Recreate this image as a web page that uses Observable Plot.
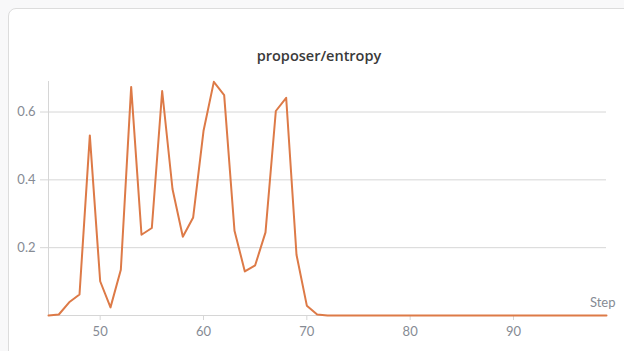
<!DOCTYPE html>
<html>
<head>
<meta charset="utf-8">
<script src="https://cdn.jsdelivr.net/npm/d3@7"></script>
<script src="https://cdn.jsdelivr.net/npm/@observablehq/plot@0.6"></script>
<style>
  html, body { margin: 0; padding: 0; width: 624px; height: 351px; overflow: hidden; background: #f8f8f9; font-family: Lato, "Open Sans", sans-serif; }
  #card { position: absolute; left: 8px; top: 8px; width: 660px; height: 400px; background: #fff; border: 1px solid #dcdcdc; border-radius: 8px; box-sizing: border-box; }
  #title { position: absolute; left: 0; width: 638px; top: 46px; text-align: center; font-family: "Open Sans", sans-serif; font-size: 14.5px; font-weight: 600; color: #3a3a3a; }
  #chart { position: absolute; left: 0; top: 0; }
</style>
</head>
<body>
<div id="card"></div>
<div id="title">proposer/entropy</div>
<div id="chart"></div>
<script>
const steps = [45, 46, 47, 48, 49, 50, 51, 52, 53, 54, 55, 56, 57, 58, 59, 60, 61, 62, 63, 64, 65, 66, 67, 68, 69, 70, 71, 72, 73, 74, 75, 76, 77, 78, 79, 80, 81, 82, 83, 84, 85, 86, 87, 88, 89, 90, 91, 92, 93, 94, 95, 96, 97, 98, 99];
const entropy = [0.0, 0.003, 0.039, 0.062, 0.531, 0.101, 0.024, 0.135, 0.674, 0.238, 0.258, 0.662, 0.373, 0.232, 0.289, 0.544, 0.689, 0.650, 0.250, 0.130, 0.148, 0.245, 0.603, 0.642, 0.179, 0.029, 0.003, 0, 0, 0, 0, 0, 0, 0, 0, 0, 0, 0, 0, 0, 0, 0, 0, 0, 0, 0, 0, 0, 0, 0, 0, 0, 0, 0, 0];
const xTicks = [50, 60, 70, 80, 90];
const yTicks = [0.2, 0.4, 0.6];
const xLabel = ["Step"];

const data = steps.map((s, i) => ({step: s, value: entropy[i]}));
const tickColor = "#868b94";

const chart = Plot.plot({
  width: 624,
  height: 351,
  marginTop: 81,
  marginBottom: 36,
  marginLeft: 48,
  marginRight: 18,
  style: { fontFamily: "Lato, 'Open Sans', sans-serif", fontSize: "13px", background: "transparent" },
  x: { domain: [45, 99] },
  y: { domain: [0, 0.69] },
  marks: [
    Plot.gridY(yTicks, { stroke: "#d6d6d6", strokeOpacity: 1 }),
    Plot.ruleX([45], { stroke: "#d6d6d6" }),
    Plot.ruleY([0], { stroke: "#d6d6d6" }),
    Plot.axisY(yTicks, { tickSize: 8, tickPadding: 5, stroke: "#d6d6d6", color: tickColor, tickFormat: d3.format(".1f"), label: null, fontSize: 13 }),
    Plot.axisX(xTicks, { tickSize: 5, tickPadding: 6, stroke: "#d6d6d6", color: tickColor, label: null, fontSize: 13 }),
    Plot.line(data, { x: "step", y: "value", stroke: "#dd7a47", strokeWidth: 2, strokeLinejoin: "round" }),
    Plot.text(xLabel, { text: d => d, frameAnchor: "bottom-right", textAnchor: "end", lineAnchor: "bottom", dx: 9, dy: -9, fill: tickColor, fontSize: 13 })
  ]
});
document.getElementById("chart").appendChild(chart);
</script>
</body>
</html>
